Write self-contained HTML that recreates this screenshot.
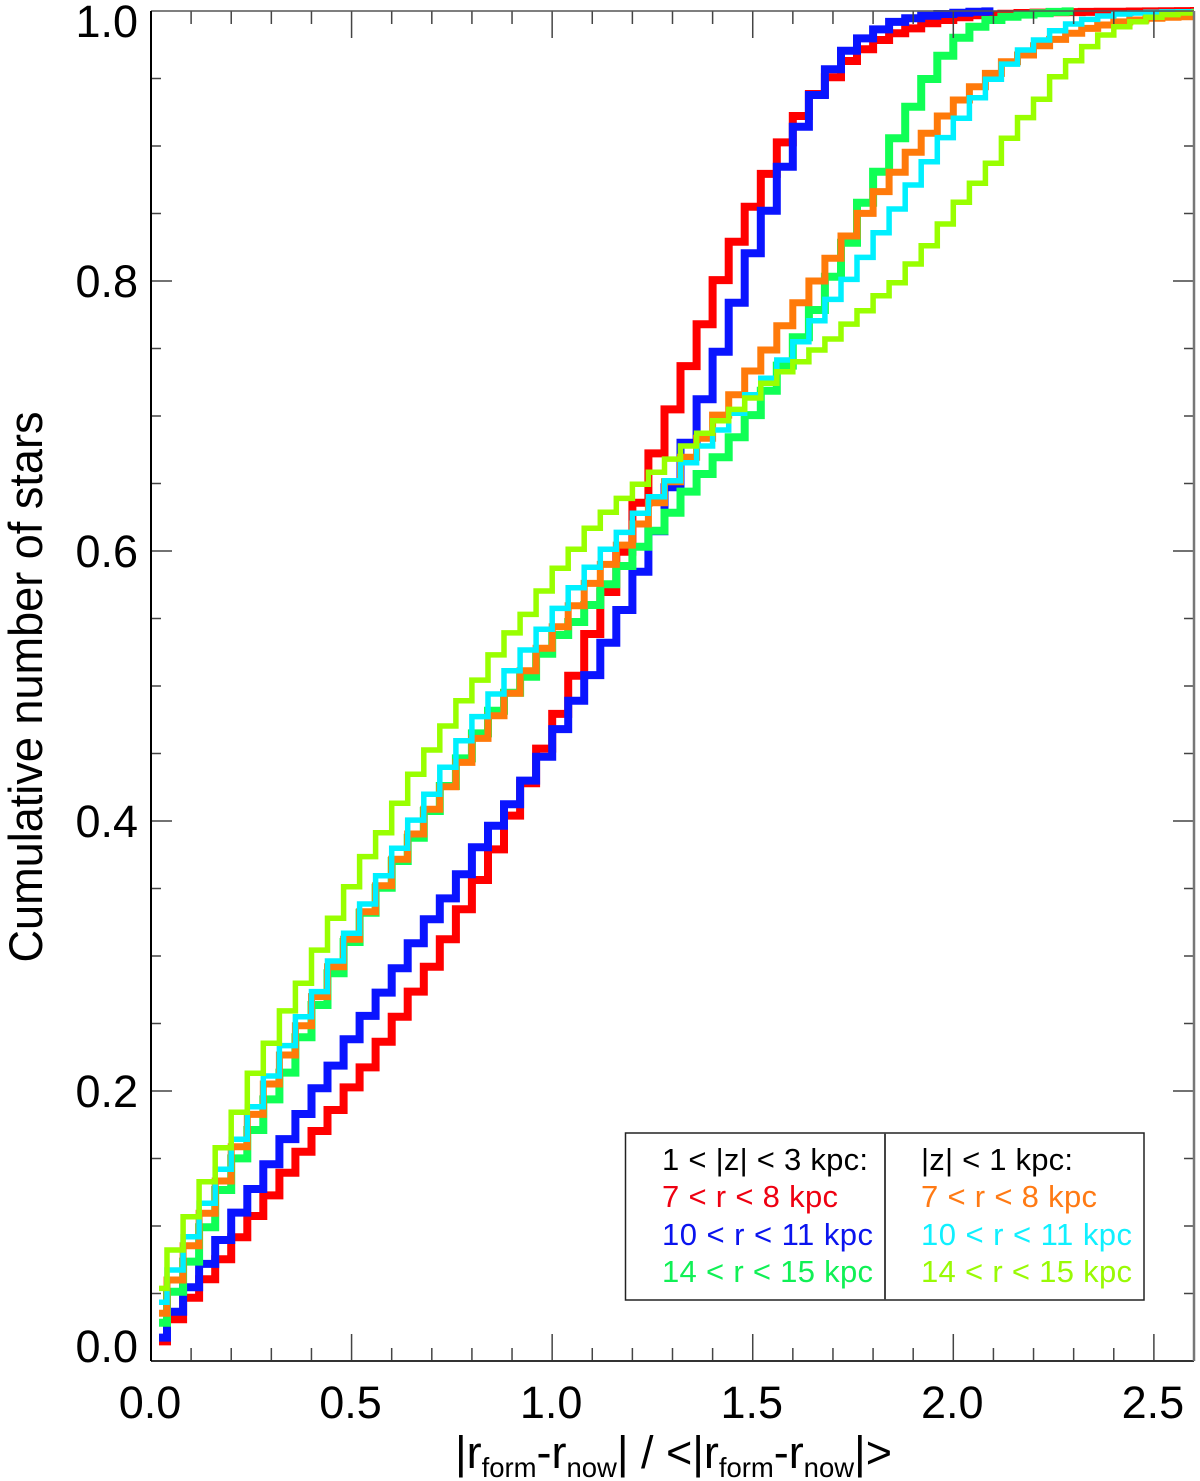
<!DOCTYPE html>
<html lang="en">
<head>
<meta charset="utf-8">
<title>Cumulative number of stars</title>
<style>
html,body{margin:0;padding:0;background:#fff;width:1200px;height:1481px;overflow:hidden}
svg{display:block}
text{font-family:"Liberation Sans",Arial,sans-serif;fill:#000}
</style>
</head>
<body>
<svg id="chart" xmlns="http://www.w3.org/2000/svg" width="1200" height="1481" viewBox="0 0 1200 1481">
  <defs>
    <clipPath id="plot-clip"><rect x="151" y="0" width="1043" height="1375"></rect></clipPath>
  </defs>
  <rect x="0" y="0" width="1200" height="1481" fill="#fff"></rect>
  <g id="series-layer" clip-path="url(#plot-clip)"></g>
  <g id="axis-layer"></g>
  <text transform="translate(42,687) rotate(-90)" text-anchor="middle" font-size="47" textLength="551" lengthAdjust="spacingAndGlyphs">Cumulative number of stars</text>
  <text x="455" y="1468" font-size="45" textLength="437" lengthAdjust="spacing">|r<tspan font-size="27.5" dy="9">form</tspan><tspan dy="-9">-r</tspan><tspan font-size="27.5" dy="9">now</tspan><tspan dy="-9">| / &lt;|r</tspan><tspan font-size="27.5" dy="9">form</tspan><tspan dy="-9">-r</tspan><tspan font-size="27.5" dy="9">now</tspan><tspan dy="-9">|&gt;</tspan></text>
  <g>
    <rect x="625.5" y="1133" width="518.5" height="167" fill="#fff" stroke="#222" stroke-width="1.5"></rect>
    <line x1="885" y1="1133" x2="885" y2="1300" stroke="#444" stroke-width="2"></line>
    <text x="662" y="1170" font-size="31" textLength="206" lengthAdjust="spacing">1 &lt; |z| &lt; 3 kpc:</text>
    <text x="662" y="1207" font-size="31" textLength="176" lengthAdjust="spacing" style="fill:#ee0011">7 &lt; r &lt; 8 kpc</text>
    <text x="662" y="1245" font-size="31" textLength="211" lengthAdjust="spacing" style="fill:#0a14ee">10 &lt; r &lt; 11 kpc</text>
    <text x="662" y="1282" font-size="31" textLength="211" lengthAdjust="spacing" style="fill:#10f055">14 &lt; r &lt; 15 kpc</text>
    <text x="921" y="1170" font-size="31" textLength="152" lengthAdjust="spacing">|z| &lt; 1 kpc:</text>
    <text x="921" y="1207" font-size="31" textLength="176" lengthAdjust="spacing" style="fill:#ff7a14">7 &lt; r &lt; 8 kpc</text>
    <text x="921" y="1245" font-size="31" textLength="211" lengthAdjust="spacing" style="fill:#10f0ff">10 &lt; r &lt; 11 kpc</text>
    <text x="921" y="1282" font-size="31" textLength="211" lengthAdjust="spacing" style="fill:#99fa05">14 &lt; r &lt; 15 kpc</text>
  </g>
</svg>
<script>
var redHighZ = [.0145,.0309,.0469,.0605,.0753,.0916,.1074,.1227,.1395,.155,.1704,.1859,.2027,.2175,.2365,.255,.2736,.292,.3124,.3346,.3563,.379,.404,.428,.4536,.4793,.5076,.5385,.5696,.5995,.6358,.6723,.7049,.737,.7679,.8007,.8291,.855,.8793,.9027,.9222,.9385,.9509,.963,.9716,.9785,.9835,.9871,.9909,.9933,.9953,.9968,.9975,.998,.9985,.9988,.999,.9992,.9993,.9994,.9995,.9996,.9997,.9998,.9999,1];
var blueHighZ = [.0173,.0365,.0546,.0719,.0896,.1099,.1274,.1457,.1644,.183,.202,.2188,.2383,.2556,.2729,.2909,.3094,.3272,.3427,.3605,.3805,.3965,.4124,.4299,.4476,.4681,.4891,.5081,.532,.5563,.5847,.6146,.6472,.6802,.7124,.7476,.7839,.8205,.8521,.8847,.9143,.9378,.9568,.9706,.9797,.9864,.9919,.9946,.9965,.9978,.9987,.9994,.9997];
var greenHighZ = [.0284,.0513,.0736,.099,.1267,.1501,.1711,.1938,.2136,.2398,.2637,.2872,.3104,.3321,.3506,.3704,.3876,.4074,.4259,.4464,.4649,.4817,.495,.5069,.5239,.5378,.5474,.56,.5753,.5889,.6032,.615,.6284,.644,.657,.6694,.6842,.7007,.7187,.7373,.7583,.7785,.8032,.8284,.858,.881,.9057,.9291,.9496,.9669,.9802,.9884,.9933,.9957,.9973,.9983,.9993,.9997];
var orangeLowZ = [.0353,.06,.0854,.1094,.1333,.1587,.1827,.2052,.2267,.2484,.2699,.2921,.3124,.3328,.3521,.3716,.3904,.4087,.4254,.4434,.4612,.478,.4946,.5113,.528,.5439,.5595,.576,.5901,.6044,.62,.6358,.6513,.6694,.6835,.7007,.7158,.7333,.7489,.7669,.7839,.8,.8168,.8333,.8501,.8662,.8805,.8953,.9094,.9222,.9341,.9439,.9538,.9624,.9674,.9743,.979,.9835,.9871,.9896,.9919,.9933,.9947,.9953,.9958,.996];
var cyanLowZ = [.0435,.0674,.0921,.1168,.142,.1642,.1884,.2111,.2336,.255,.2736,.2963,.3168,.3385,.3595,.3798,.4007,.4198,.4398,.4595,.4773,.4941,.5113,.5267,.542,.5575,.5728,.5879,.6013,.6138,.6279,.6402,.6521,.6654,.6778,.6896,.702,.7158,.7279,.7415,.755,.7706,.7864,.8012,.8175,.8358,.8533,.8711,.8884,.9062,.9205,.9358,.9494,.9607,.9711,.9785,.9853,.9904,.9938,.9963,.9978,.9985,.999,.9993,.9995,.9996];
var limeLowZ = [.0538,.0822,.1069,.1328,.158,.1842,.2131,.2353,.2593,.2798,.3044,.3279,.3513,.3736,.3913,.4131,.4346,.4526,.4704,.4891,.5044,.523,.5393,.553,.5704,.5872,.6013,.6168,.6287,.639,.6494,.6583,.6681,.6778,.6872,.6965,.7049,.7133,.7242,.7328,.7402,.7489,.757,.7681,.778,.7891,.7987,.8126,.8261,.8422,.8583,.8724,.8872,.9057,.921,.9346,.9513,.9632,.9736,.9822,.9884,.992,.9953,.9973,.9985,.9992];
var xTickLabels = ["0.0","0.5","1.0","1.5","2.0","2.5"];
var yTickLabels = ["0.0","0.2","0.4","0.6","0.8","1.0"];
var binWidth = 0.04;
var xMinorStep = 0.1;
var yMinorStep = 0.05;

var SVG_NS = "http://www.w3.org/2000/svg";
var PLOT = {left:151, right:1194, top:11, bottom:1361, xMax:2.6};
function xScale(v){ return PLOT.left + v * (PLOT.right - PLOT.left) / PLOT.xMax; }
function yScale(v){ return PLOT.bottom - v * (PLOT.bottom - PLOT.top); }

var seriesLayer = document.getElementById("series-layer");
var axisLayer = document.getElementById("axis-layer");

function stepPath(values){
  var d = "";
  for (var i = 0; i < values.length; i++) {
    var centre = binWidth / 2 + i * binWidth;
    var yy = yScale(values[i]).toFixed(1);
    if (i === 0) {
      d += "M" + xScale(centre).toFixed(1) + " " + yy;
    } else {
      var edge = xScale(i * binWidth).toFixed(1);
      d += "L" + edge + " " + yy;
    }
    if (i === values.length - 1) {
      d += "L" + xScale(centre).toFixed(1) + " " + yy;
    } else {
      d += "L" + xScale((i + 1) * binWidth).toFixed(1) + " " + yy;
    }
  }
  return d;
}

function drawSeries(values, name, color, width){
  var p = document.createElementNS(SVG_NS, "path");
  
  
  p.setAttribute("d", stepPath(values));
  p.setAttribute("fill", "none");
  p.setAttribute("stroke", color);
  p.setAttribute("stroke-width", width);
  p.setAttribute("stroke-linejoin", "miter");
  p.setAttribute("stroke-linecap", "butt");
  seriesLayer.appendChild(p);
}
drawSeries(redHighZ, "series-high-z-7-8-kpc", "#ff0000", 8);
drawSeries(blueHighZ, "series-high-z-10-11-kpc", "#0a14ff", 8);
drawSeries(greenHighZ, "series-high-z-14-15-kpc", "#10ff55", 8);
drawSeries(orangeLowZ, "series-low-z-7-8-kpc", "#ff7a0a", 7);
drawSeries(cyanLowZ, "series-low-z-10-11-kpc", "#00f0ff", 5.5);
drawSeries(limeLowZ, "series-low-z-14-15-kpc", "#99ff00", 5.5);

function addLine(x1, y1, x2, y2, color, width, name){
  var l = document.createElementNS(SVG_NS, "line");
  
  
  l.setAttribute("x1", x1);
  l.setAttribute("y1", y1);
  l.setAttribute("x2", x2);
  l.setAttribute("y2", y2);
  l.setAttribute("stroke", color);
  l.setAttribute("stroke-width", width);
  axisLayer.appendChild(l);
}

var xMinorCount = Math.round(PLOT.xMax / xMinorStep);
for (var xi = 1; xi < xMinorCount; xi++) {
  var xv = xi * xMinorStep;
  var xIsMajor = xi % 5 === 0;
  var xLen = xIsMajor ? 27 : 13;
  addLine(xScale(xv), PLOT.bottom, xScale(xv), PLOT.bottom - xLen, "#444", 1.5, "x-tick-bottom");
  addLine(xScale(xv), PLOT.top, xScale(xv), PLOT.top + xLen, "#444", 1.5, "x-tick-top");
}
var yMinorCount = Math.round(1 / yMinorStep);
for (var yi = 1; yi < yMinorCount; yi++) {
  var yv = yi * yMinorStep;
  var yIsMajor = yi % 4 === 0;
  var yLen = yIsMajor ? 21 : 10;
  addLine(PLOT.left, yScale(yv), PLOT.left + yLen, yScale(yv), "#444", 1.5, "y-tick-left");
  addLine(PLOT.right, yScale(yv), PLOT.right - yLen, yScale(yv), "#444", 1.5, "y-tick-right");
}
addLine(PLOT.left, PLOT.top, PLOT.right, PLOT.top, "#555", 1.5, "top-axis-line");
addLine(PLOT.left, PLOT.bottom, PLOT.right, PLOT.bottom, "#333", 2, "x-axis-line");
addLine(PLOT.left, PLOT.top, PLOT.left, PLOT.bottom, "#000", 2, "y-axis-line");
addLine(PLOT.right, PLOT.top, PLOT.right, PLOT.bottom, "#777", 2.5, "right-axis-line");

xTickLabels.forEach(function(label){
  var t = document.createElementNS(SVG_NS, "text");
  
  
  t.setAttribute("x", xScale(parseFloat(label)) - 1);
  t.setAttribute("y", 1418);
  t.setAttribute("font-size", 45);
  t.setAttribute("text-anchor", "middle");
  t.textContent = label;
  axisLayer.appendChild(t);
});
yTickLabels.forEach(function(label){
  var v = parseFloat(label);
  var t = document.createElementNS(SVG_NS, "text");
  
  
  t.setAttribute("x", 138);
  var shift = v === 0 ? 1 : (v === 1 ? 26 : 16);
  t.setAttribute("y", yScale(v) + shift);
  t.setAttribute("font-size", 45);
  t.setAttribute("text-anchor", "end");
  t.textContent = label;
  axisLayer.appendChild(t);
});
</script>
</body>
</html>
